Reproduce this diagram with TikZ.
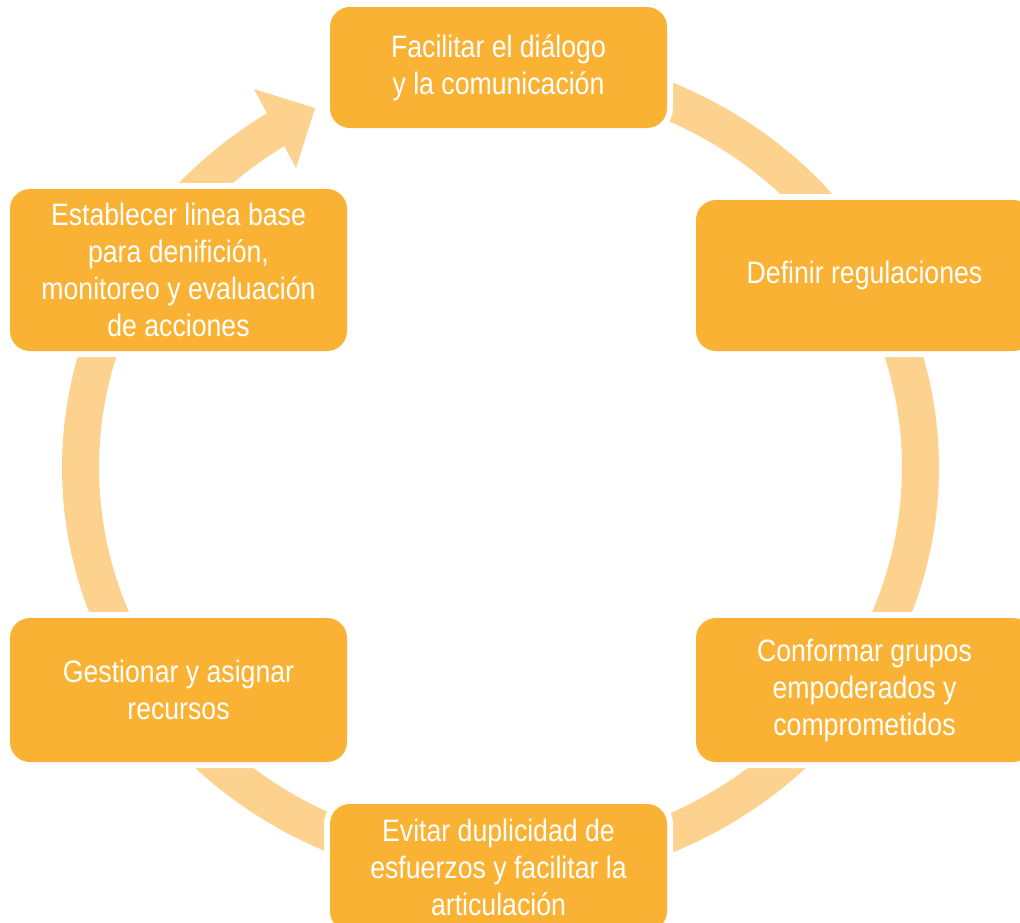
\documentclass[tikz,border=0pt]{standalone}
\usepackage{fontspec}
\setmainfont{Liberation Sans}[FakeStretch=0.86]
\definecolor{boxfill}{HTML}{F9B233}
\definecolor{ringfill}{HTML}{FDD28F}
\begin{document}
\begin{tikzpicture}[x=1pt,y=-1pt,
  stagebox/.style={rectangle, rounded corners=20pt, fill=boxfill, text=white,
    align=center, inner sep=0pt, minimum width=337pt,
    font=\fontsize{31}{37}\selectfont,
    preaction={draw=white, line width=12pt}},
  ring/.style={draw=ringfill, line width=37pt},
  ringhead/.style={fill=ringfill}]
\useasboundingbox (0,0) rectangle (1020,922);
% cycle ring (ellipse segment, open between arrow tip and top box)
\draw[ring] plot[domain=-110:238.5, samples=240, smooth]
  ({500.5+420*cos(\x)},{467.5+400*sin(\x)});
% arrowhead
\coordinate (ahL) at (254,89);
\coordinate (ahT) at (315,108);
\coordinate (ahR) at (296,168);
\fill[ringhead] (ahL) -- (ahT) -- (ahR) -- cycle;
% stages
\node[stagebox, minimum height=121pt] (n1) at (498.5,67.5)
  {Facilitar el diálogo\\y la comunicación};
\node[stagebox, minimum height=151pt] (n2) at (864.5,275.5)
  {Definir regulaciones};
\node[stagebox, minimum height=144pt] (n3) at (864.5,690)
  {Conformar grupos\\empoderados y\\comprometidos};
\node[stagebox, minimum height=127pt] (n4) at (498.5,867.5)
  {Evitar duplicidad de\\esfuerzos y facilitar la\\articulación};
\node[stagebox, minimum height=144pt] (n5) at (178.5,690)
  {Gestionar y asignar\\recursos};
\node[stagebox, minimum height=162pt] (n6) at (178.5,270)
  {Establecer linea base\\para denifición,\\monitoreo y evaluación\\de acciones};
\end{tikzpicture}
\end{document}
